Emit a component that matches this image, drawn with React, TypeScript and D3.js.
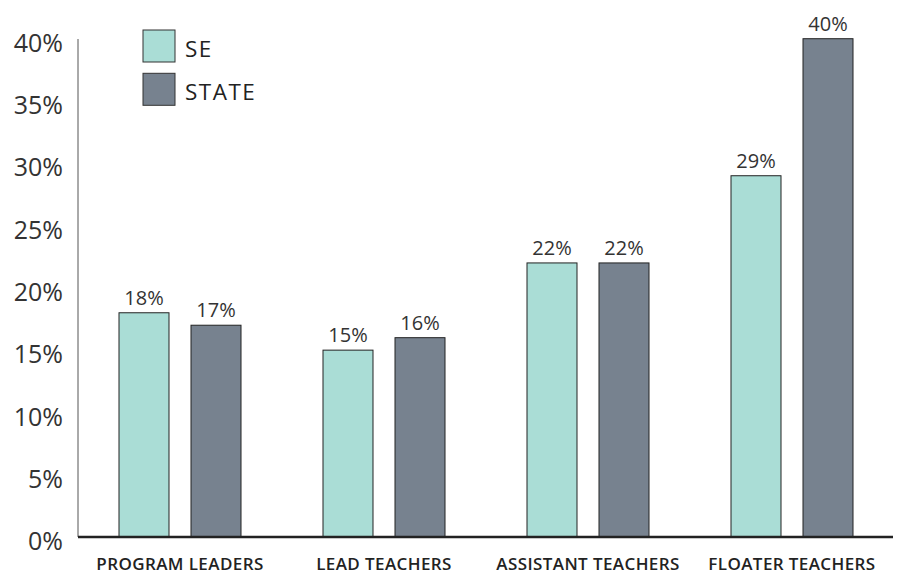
import React from "react";
import * as d3 from "d3";

const categories = ["PROGRAM LEADERS", "LEAD TEACHERS", "ASSISTANT TEACHERS", "FLOATER TEACHERS"];
const seriesNames = ["SE", "STATE"];
const seValues = [18, 15, 22, 29];
const stateValues = [17, 16, 22, 40];
const yTicks = [0, 5, 10, 15, 20, 25, 30, 35, 40];

const colors: Record<string, string> = { SE: "#aaddd6", STATE: "#77828f" };

const W = 902;
const H = 573;
const FONT = "'Open Sans', 'Noto Sans', sans-serif";

export default function App() {
  const x0 = d3.scaleBand<string>().domain(categories).range([78, 894]).padding(0);
  const x1 = d3.scaleBand<string>().domain(seriesNames).range([41, 163]).paddingInner(0.3056);
  const y = d3.scaleLinear().domain([0, 40]).range([537, 38.7]);

  const data = categories.map((c, i) => ({
    cat: c,
    vals: [
      { s: "SE", v: seValues[i] },
      { s: "STATE", v: stateValues[i] },
    ],
  }));

  return (
    <svg
      width={W}
      height={H}
      style={{ position: "absolute", left: 0, top: 0, background: "#fff" }}
      fontFamily={FONT}
    >
      {/* y axis line */}
      <line x1={78} x2={78} y1={39} y2={537} stroke="#555" strokeWidth={1} />
      {/* y tick labels */}
      {yTicks.map((t) => (
        <text
          key={t}
          x={63}
          y={y(t) + 6.5}
          textAnchor="end"
          dominantBaseline="middle"
          fontSize={25}
          fontWeight={400}
          fill="#333"
        >
          {t}%
        </text>
      ))}
      {/* bars */}
      {data.map((d) => (
        <g key={d.cat} transform={`translate(${x0(d.cat)},0)`}>
          {d.vals.map((b) => (
            <g key={b.s}>
              <rect
                x={x1(b.s)}
                y={y(b.v)}
                width={x1.bandwidth()}
                height={y(0) - y(b.v)}
                fill={colors[b.s]}
                stroke="#222"
                strokeWidth={1}
              />
              <text
                x={(x1(b.s) as number) + x1.bandwidth() / 2}
                y={y(b.v) - 8}
                textAnchor="middle"
                fontSize={20}
                fontWeight={400}
                fill="#333"
              >
                {b.v}%
              </text>
            </g>
          ))}
          <text
            x={x0.bandwidth() / 2}
            y={569.5}
            textAnchor="middle"
            fontSize={17}
            fontWeight={600}
            letterSpacing={0.4}
            fill="#222"
          >
            {d.cat}
          </text>
        </g>
      ))}
      {/* baseline */}
      <line x1={78} x2={893} y1={537} y2={537} stroke="#222" strokeWidth={2.5} />
      {/* legend */}
      {seriesNames.map((s, i) => (
        <g key={s} transform={`translate(143,${30 + i * 43.3})`}>
          <rect x={0} y={0} width={32} height={32} fill={colors[s]} stroke="#333" strokeWidth={1} />
          <text x={42} y={27} fontSize={22.5} fontWeight={400} letterSpacing={1.5} fill="#222">
            {s}
          </text>
        </g>
      ))}
    </svg>
  );
}
